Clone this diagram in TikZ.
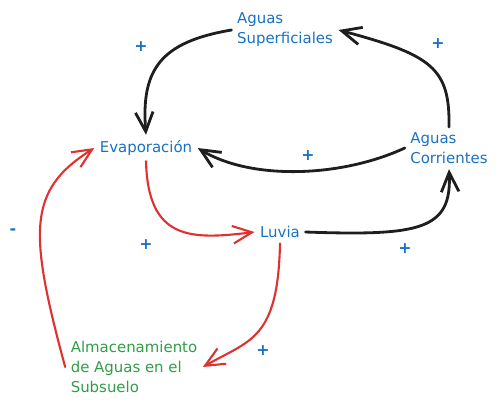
\documentclass[tikz,border=0pt]{standalone}
\usepackage{fontspec}
\setmainfont{DejaVu Sans}
\usetikzlibrary{arrows.meta}
\definecolor{varblue}{HTML}{1971C2}
\definecolor{stockgreen}{HTML}{2F9E44}
\definecolor{loopred}{HTML}{E03131}
\definecolor{inkblack}{HTML}{1E1E1E}
\begin{document}
\begin{tikzpicture}[x=0.02cm,y=-0.02cm,
  var/.style={text=varblue,align=left,inner sep=3pt,font=\fontsize{8.5}{11.3}\selectfont},
  sign/.style={text=varblue,inner sep=0pt,font=\fontsize{9}{9}\selectfont\bfseries},
  link/.style={draw=inkblack,line width=1.6pt,line cap=round,-{Straight Barb[length=11pt,width=10pt]}},
  redlink/.style={link,draw=loopred,line width=1.2pt}]
\useasboundingbox (0,0) rectangle (500,407);
\node[var] (sup) at (285,30) {Aguas\\Superficiales};
\node[var] (evap) at (146,148) {Evaporación};
\node[var] (cor) at (449,148) {Aguas\\Corrientes};
\node[var] (luv) at (280,232) {Luvia};
\node[var,text=stockgreen] (alm) at (134,367) {Almacenamiento\\de Aguas en el\\Subsuelo};
\draw[link] (sup.west) .. controls (160,42) and (141,70) .. (evap.north);
\draw[link] (cor.north) .. controls (450,68) and (432,55) .. (sup.east);
\draw[link] (cor.west) .. controls (340,178) and (250,180) .. (evap.east);
\draw[link] (luv.east) .. controls (420,236) and (452,230) .. (cor.south);
\draw[redlink] (evap.south) .. controls (148,240) and (190,240) .. (luv.west);
\draw[redlink] (luv.south) .. controls (278,340) and (250,340) .. (alm.east);
\draw[redlink] (alm.west) .. controls (28,230) and (28,190) .. (evap.west);
\node[sign] (s1) at (141,47) {+};
\node[sign] (s2) at (438,44) {+};
\node[sign] (s3) at (308,156) {+};
\node[sign] (s4) at (146,245) {+};
\node[sign] (s5) at (405,249) {+};
\node[sign] (s6) at (263,351) {+};
\node[sign] (s7) at (13,232) {-};
\end{tikzpicture}
\end{document}
